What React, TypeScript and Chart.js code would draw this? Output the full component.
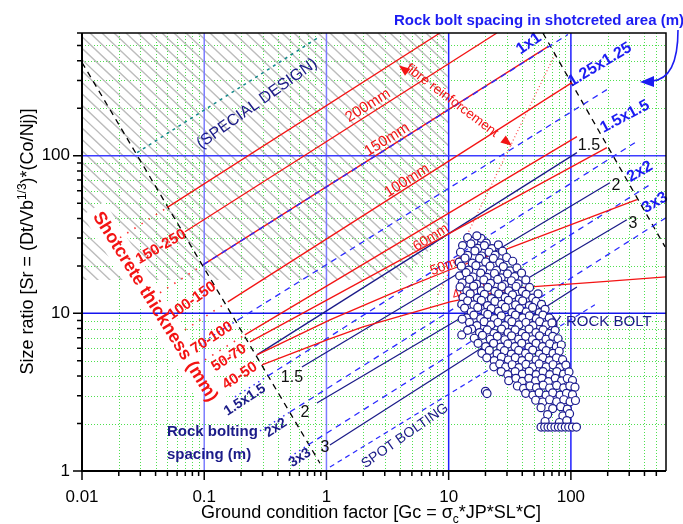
import React, { useEffect, useRef } from "react";
import { Chart, registerables } from "chart.js";

Chart.register(...registerables);

const FONT = "'Liberation Sans', Arial, Helvetica, sans-serif";
const RED = "#f31414";
const NAVY = "#1b1b88";
const BLUE = "#1c1cf2";

// ---- axes ----
const xRange = [0.01, 600];
const yRange = [1, 600];
const xTickValues = [0.01, 0.1, 1, 10, 100];
const yTickValues = [1, 10, 100];

// ---- shotcrete thickness lines (red) [Gc, Sr] ----
const shotcrete250 = [[0.0496, 46.8], [8.48, 600]];
const shotcrete200 = [[0.0696, 32.9], [24.8, 600]];
const shotcrete150 = [[0.0977, 20.3], [64.9, 492]];
const shotcrete100 = [[0.156, 11.83], [101.9, 290.7]];
const shotcrete60 = [[0.215, 7.3], [112, 132]];
const shotcrete60b = [[0.237, 6.59], [197, 112.4]];
const shotcrete50 = [[0.27, 5.45], [1.068, 9.09], [3.99, 14.1], [10.24, 18.9], [26.3, 24.6], [346.7, 52.6]];
const shotcrete40 = [[0.297, 4.71], [1.01, 6.79], [1.99, 8.21], [10.24, 11.83], [36.2, 14.5], [172.7, 15.85], [600, 17.05]];

// dotted red continuations left of the limit
const shotcreteExt = [
  [[0.02046, 30.2], [0.0496, 46.8]],
  [[0.0298, 21.5], [0.0696, 32.9]],
  [[0.04345, 13.5], [0.0977, 20.3]],
  [[0.0696, 7.86], [0.156, 11.83]],
  [[0.1014, 5.07], [0.215, 7.3]],
  [[0.1225, 4.71], [0.237, 6.59]],
];

// ---- rock bolt spacing in shotcreted area (blue dashed) ----
const bolt1x1 = [[0.0977, 20.3], [94.5, 587]];
const bolt125 = [[0.1888, 9.09], [197, 262.4]];
const bolt15 = [[0.332, 4.01], [333.9, 120.9]];
const bolt2 = [[0.503, 2.37], [442.8, 65.4]];
const bolt3 = [[0.706, 1.462], [600, 40.4]];
const boltExt = [
  [[0.0923, 6.4], [0.1888, 9.09]],
  [[0.1784, 2.95], [0.332, 4.01]],
  [[0.2858, 1.795], [0.503, 2.37]],
  [[0.503, 1.227], [0.706, 1.462]],
];
const spotBoltLimit = [[1.068, 1.06], [157.1, 11.32]];

// ---- rock bolt spacing, no shotcrete (navy solid) ----
const boltOnly15 = [[0.27, 5.45], [112, 104.5]];
const boltOnly2 = [[0.63, 4.57], [208.4, 67.4]];
const boltOnly3 = [[0.836, 2.7], [287.1, 39.2]];
const boltOnly4 = [[1.068, 1.462], [112, 14.7]];

// ---- limits ----
const limitLeft = [[0.01, 390], [0.885, 1.12]];
const limitRight = [[59, 600], [590, 26.4]];
const specialDesignLimit = [[0.0282, 104.5], [0.885, 570]];
const fibreLimit = [[74.0, 437.7], [8.01, 12.73]];
const hatchRegion = [[0.01, 600], [9.7, 600], [10.2, 36.5], [4.39, 16.3], [0.01, 16.3]];

// ---- observed cases [Gc, Sr] ----
const casePoints = [
  [14.3, 30.2], [16.1, 28.7], [18.4, 29.9], [20.3, 27.9], [17.0, 31.0],
  [13.0, 26.9], [15.2, 27.6], [17.3, 25.8], [19.6, 26.9], [22.6, 25.7], [25.5, 27.2],
  [12.5, 24.4], [14.3, 23.3], [16.4, 24.9], [18.6, 23.1], [21.4, 24.4], [24.0, 23.4], [27.6, 24.8],
  [12.2, 21.1], [13.6, 22.4], [15.6, 20.8], [17.9, 22.3], [20.1, 21.2], [23.2, 22.3], [26.2, 20.9], [29.8, 22.6], [33.4, 21.4],
  [12.7, 19.9], [14.6, 18.8], [16.7, 20.1], [19.0, 18.9], [21.8, 19.9], [24.6, 18.7], [28.0, 19.8], [31.9, 18.6], [36.2, 19.4],
  [12.3, 17.3], [13.9, 18.1], [15.8, 17.0], [18.3, 18.0], [20.6, 16.9], [23.7, 17.9], [26.9, 16.8], [30.3, 17.8], [34.7, 17.1], [39.5, 18.0],
  [12.9, 15.6], [14.8, 16.4], [16.9, 15.3], [19.4, 16.3], [22.0, 15.5], [25.2, 16.4], [28.6, 15.2], [32.6, 16.1], [37.0, 15.4], [42.8, 16.3],
  [12.4, 14.7], [14.1, 13.9], [16.0, 14.9], [18.5, 13.9], [20.9, 14.6], [23.9, 13.8], [27.3, 14.8], [31.1, 13.9], [35.6, 14.8], [40.1, 13.8], [45.9, 14.6],
  [13.1, 12.6], [15.0, 13.3], [17.2, 12.5], [19.6, 13.2], [22.4, 12.4], [25.7, 13.3], [29.0, 12.6], [33.3, 13.1], [37.8, 12.3], [43.0, 13.2], [48.7, 12.5], [53.9, 13.3],
  [12.8, 11.4], [14.3, 12.0], [16.1, 11.3], [18.5, 12.1], [20.8, 11.2], [23.9, 11.9], [27.2, 11.4], [30.8, 12.1], [35.3, 11.3], [40.3, 12.0], [45.8, 11.2], [51.8, 11.9], [57.5, 11.4],
  [13.5, 10.8], [15.3, 10.2], [17.3, 10.9], [19.9, 10.1], [22.3, 10.7], [25.6, 10.3], [29.1, 10.9], [33.0, 10.1], [38.0, 10.7], [43.1, 10.2], [48.6, 10.9], [55.3, 10.1], [61.5, 10.6],
  [14.0, 9.35], [16.1, 9.75], [18.3, 9.25], [20.9, 9.85], [23.7, 9.25], [27.0, 9.65], [31.0, 9.15], [35.2, 9.75], [40.4, 9.35], [45.8, 9.65], [52.2, 9.25], [59.0, 9.75], [66.5, 9.35],
  [14.8, 8.75], [17.0, 8.35], [19.5, 8.85], [22.2, 8.45], [25.3, 8.75], [28.8, 8.35], [32.9, 8.85], [37.6, 8.45], [42.9, 8.75], [48.9, 8.35], [55.5, 8.85], [62.8, 8.45], [70.0, 8.7],
  [15.4, 7.95], [17.9, 7.55], [20.7, 7.85], [23.5, 7.45], [27.1, 7.95], [30.6, 7.55], [35.0, 7.85], [40.0, 7.45], [45.5, 7.95], [51.8, 7.55], [59.3, 7.85], [66.6, 7.45], [74.3, 7.8],
  [16.2, 6.95], [18.9, 7.25], [21.9, 6.85], [25.0, 7.15], [28.8, 6.8], [32.7, 7.2], [37.4, 6.85], [42.6, 7.15], [48.5, 6.8], [55.4, 7.2], [62.6, 6.85], [71.0, 7.15], [78.5, 6.9],
  [17.4, 6.45], [20.1, 6.15], [23.3, 6.45], [26.7, 6.1], [30.5, 6.4], [34.9, 6.15], [39.6, 6.45], [45.4, 6.1], [51.9, 6.45], [58.7, 6.15], [67.1, 6.4], [76.0, 6.15], [83.5, 6.3],
  [18.7, 5.58], [21.5, 5.82], [24.9, 5.55], [28.6, 5.8], [32.6, 5.52], [37.4, 5.82], [42.6, 5.58], [48.7, 5.85], [55.3, 5.52], [62.8, 5.8], [71.4, 5.58], [80.2, 5.75],
  [20.5, 5.22], [23.6, 5.02], [27.0, 5.27], [30.8, 5.06], [35.1, 5.23], [39.9, 5.02], [45.5, 5.27], [51.9, 5.06], [58.9, 5.23], [66.9, 5.02], [76.2, 5.22], [85.5, 5.08],
  [23.4, 4.58], [26.2, 4.78], [29.3, 4.57], [33.1, 4.72], [37.6, 4.53], [42.9, 4.74], [48.8, 4.57], [55.0, 4.78], [62.8, 4.57], [71.5, 4.72], [81.3, 4.53], [91.0, 4.7],
  [26.9, 4.27], [30.5, 4.08], [35.0, 4.27], [40.1, 4.12], [45.6, 4.28], [52.0, 4.08], [59.2, 4.27], [67.2, 4.08], [76.7, 4.27], [87.0, 4.12], [96.5, 4.25],
  [31.0, 3.74], [35.5, 3.87], [40.0, 3.7], [45.3, 3.87], [51.5, 3.73], [58.0, 3.87], [65.5, 3.69], [74.5, 3.87], [84.0, 3.73], [93.5, 3.86], [103, 3.75],
  [36.5, 3.46], [41.0, 3.34], [46.3, 3.46], [52.3, 3.38], [59.4, 3.5], [67.0, 3.36], [76.5, 3.49], [87.3, 3.37], [98.0, 3.46], [108, 3.4],
  [42.7, 3.11], [48.9, 3.03], [55.0, 3.13], [62.7, 3.03], [71.0, 3.13], [81.5, 3.03], [92.0, 3.11], [103, 3.05],
  [51.5, 2.81], [58.9, 2.74], [67.0, 2.83], [76.5, 2.75], [87.5, 2.83], [98.5, 2.75], [109, 2.8],
  [57.0, 2.52], [71.0, 2.49], [82.5, 2.56], [93.5, 2.47],
  [64.5, 2.28], [86.0, 2.24], [97.5, 2.31],
  [61.5, 2.06], [80.5, 2.03], [92.5, 2.09],
  [57, 1.9], [61, 1.9], [65, 1.9], [69, 1.9], [74, 1.9], [79, 1.9], [84, 1.9], [90, 1.9], [96, 1.9], [103, 1.9], [111, 1.9],
  [20, 3.2], [20.6, 3.1], [12.9, 9.2], [12.8, 7.3], [14.3, 7.8],
];

// ---- annotations ----
type Label = { text: string; x: number; y: number; rot: number; font: string; color: string; align?: CanvasTextAlign };
const plotLabels: Label[] = [
  { text: "(SPECIAL DESIGN)", x: 0.27, y: 213.8, rot: -35.5, font: `16px ${FONT}`, color: NAVY },
  { text: "fibre reinforcement", x: 10.63, y: 223.4, rot: 37, font: `13.5px ${FONT}`, color: RED },
  { text: "200mm", x: 2.185, y: 207.7, rot: -32, font: `15px ${FONT}`, color: RED },
  { text: "150mm", x: 3.126, y: 126.4, rot: -32, font: `15px ${FONT}`, color: RED },
  { text: "100mm", x: 4.555, y: 69.4, rot: -32, font: `15px ${FONT}`, color: RED },
  { text: "60mm", x: 7.158, y: 30.2, rot: -32, font: `14px ${FONT}`, color: RED },
  { text: "50mm", x: 10.05, y: 20.3, rot: -20, font: `14px ${FONT}`, color: RED },
  { text: "40mm", x: 15.2, y: 14.1, rot: -20, font: `14px ${FONT}`, color: RED },
  { text: "150-250", x: 0.0443, y: 26.4, rot: -30, font: `bold 15px ${FONT}`, color: RED },
  { text: "100-150", x: 0.0794, y: 12.0, rot: -35, font: `bold 15px ${FONT}`, color: RED },
  { text: "70-100", x: 0.1157, y: 6.99, rot: -33, font: `bold 15px ${FONT}`, color: RED },
  { text: "50-70", x: 0.1594, y: 5.22, rot: -33, font: `bold 15px ${FONT}`, color: RED },
  { text: "40-50", x: 0.196, y: 4.01, rot: -33, font: `bold 15px ${FONT}`, color: RED },
  { text: "1x1", x: 45.3, y: 514, rot: -35, font: `bold 16px ${FONT}`, color: BLUE },
  { text: "1.25x1.25", x: 172.7, y: 378, rot: -31, font: `bold 16px ${FONT}`, color: BLUE },
  { text: "1.5x1.5", x: 276.5, y: 176.9, rot: -28, font: `bold 16px ${FONT}`, color: BLUE },
  { text: "2x2", x: 366.7, y: 79.1, rot: -30, font: `bold 16px ${FONT}`, color: BLUE },
  { text: "3x3", x: 486.6, y: 50.3, rot: -30, font: `bold 16px ${FONT}`, color: BLUE },
  { text: "1.5", x: 140.4, y: 115.8, rot: 0, font: `16px ${FONT}`, color: "#111" },
  { text: "2", x: 233.4, y: 64.5, rot: 0, font: `16px ${FONT}`, color: "#111" },
  { text: "3", x: 321.6, y: 37.0, rot: 0, font: `16px ${FONT}`, color: "#111" },
  { text: "1.5", x: 0.522, y: 3.894, rot: 0, font: `16px ${FONT}`, color: "#111" },
  { text: "2", x: 0.6669, y: 2.335, rot: 0, font: `16px ${FONT}`, color: "#111" },
  { text: "3", x: 0.972, y: 1.4, rot: 0, font: `16px ${FONT}`, color: "#111" },
  { text: "1.5x1.5", x: 0.2154, y: 2.823, rot: -33, font: `bold 14px ${FONT}`, color: NAVY },
  { text: "2x2", x: 0.3863, y: 1.875, rot: -33, font: `bold 14px ${FONT}`, color: NAVY },
  { text: "3x3", x: 0.6068, y: 1.209, rot: -33, font: `bold 14px ${FONT}`, color: NAVY },
  { text: "Rock bolting", x: 0.0496, y: 1.769, rot: 0, font: `bold 15px ${FONT}`, color: NAVY, align: "left" },
  { text: "spacing (m)", x: 0.0496, y: 1.264, rot: 0, font: `bold 15px ${FONT}`, color: NAVY, align: "left" },
  { text: "SPOT BOLTING", x: 4.386, y: 1.668, rot: -35, font: `14px ${FONT}`, color: NAVY },
  { text: "ONLY ROCK BOLT", x: 135.1, y: 8.83, rot: 0, font: `15px ${FONT}`, color: NAVY },
];
const shotcreteTitle: Label = { text: "Shotcrete thickness (mm)", x: 0.03956, y: 11.0, rot: 58, font: `bold 18px ${FONT}`, color: RED };
const fibreArrowTips = [[3.917, 372.7, 217], [32.9, 115.8, 37]];

const pts = (arr: number[][]) => arr.map(([x, y]) => ({ x, y }));

function lineDs(data: number[][], color: string, width: number, dash: number[] = []) {
  return {
    data: pts(data),
    showLine: true,
    borderColor: color,
    backgroundColor: color,
    borderWidth: width,
    borderDash: dash,
    pointRadius: 0,
    pointHoverRadius: 0,
    fill: false,
    tension: 0,
  };
}

function decadeMinors(min: number, max: number) {
  const out: number[] = [];
  for (let d = min; d < max; d *= 10) {
    for (let k = 2; k <= 9; k++) {
      const v = k * d;
      if (v < max * 0.999) out.push(v);
    }
  }
  return out;
}

function drawLabel(ctx: CanvasRenderingContext2D, chart: any, l: Label) {
  const px = chart.scales.x.getPixelForValue(l.x);
  const py = chart.scales.y.getPixelForValue(l.y);
  ctx.save();
  ctx.translate(px, py);
  ctx.rotate((l.rot * Math.PI) / 180);
  ctx.font = l.font;
  ctx.fillStyle = l.color;
  ctx.textAlign = l.align || "center";
  ctx.textBaseline = "middle";
  ctx.fillText(l.text, 0, 0);
  ctx.restore();
}

function drawParts(ctx: CanvasRenderingContext2D, parts: [string, number, number][], cx: number, baseY: number) {
  let total = 0;
  for (const [t, s] of parts) {
    ctx.font = `${s}px ${FONT}`;
    total += ctx.measureText(t).width;
  }
  let x = cx - total / 2;
  ctx.textAlign = "left";
  ctx.textBaseline = "alphabetic";
  for (const [t, s, dy] of parts) {
    ctx.font = `${s}px ${FONT}`;
    ctx.fillText(t, x, baseY + dy);
    x += ctx.measureText(t).width;
  }
}

export default function App() {
  const ref = useRef<HTMLCanvasElement | null>(null);

  useEffect(() => {
    const canvas = ref.current;
    if (!canvas) return;

    const datasets: any[] = [];
    shotcreteExt.forEach((l) => datasets.push(lineDs(l, "#ff3030", 1.6, [1.5, 7])));
    boltExt.forEach((l) => datasets.push(lineDs(l, "#2a2aff", 1.4, [1.5, 4])));
    datasets.push(lineDs(fibreLimit, "#ff5050", 1.3, [1, 2.5]));
    datasets.push(lineDs(specialDesignLimit, "#138a8a", 1.5, [3, 4]));
    datasets.push(lineDs(limitLeft, "#000", 1.3, [6, 5]));
    datasets.push(lineDs(limitRight, "#000", 1.3, [6, 5]));
    [boltOnly15, boltOnly2, boltOnly3, boltOnly4].forEach((l) => datasets.push(lineDs(l, NAVY, 1.3)));
    datasets.push(lineDs(spotBoltLimit, "#2a2aff", 1.2, [5, 4]));
    [bolt125, bolt15, bolt2, bolt3].forEach((l) => datasets.push(lineDs(l, "#2a2aff", 1.3, [6, 5])));
    [shotcrete250, shotcrete200, shotcrete150, shotcrete100, shotcrete60, shotcrete60b, shotcrete50, shotcrete40].forEach((l) =>
      datasets.push(lineDs(l, RED, 1.3))
    );
    datasets.push(lineDs(bolt1x1, "#2a2aff", 1.4, [6, 5]));

    const scatterIndex = datasets.length;
    datasets.push({
      data: pts(casePoints),
      showLine: false,
      pointRadius: 4,
      pointHoverRadius: 4,
      pointBorderWidth: 1.2,
      pointBorderColor: "#1b1b8f",
      pointBackgroundColor: "#ffffff",
    });
    datasets.forEach((d, i) => (d.order = -i));

    const bgPlugin = {
      id: "rmiBackground",
      beforeDatasetsDraw(chart: any) {
        const { ctx, chartArea: a, scales } = chart;
        const sx = scales.x, sy = scales.y;
        ctx.save();
        ctx.beginPath();
        ctx.rect(a.left, a.top, a.right - a.left, a.bottom - a.top);
        ctx.clip();
        // minor grid
        ctx.strokeStyle = "#4fe04f";
        ctx.lineWidth = 1;
        ctx.setLineDash([1, 2]);
        ctx.beginPath();
        for (const v of decadeMinors(xRange[0], xRange[1])) {
          const p = Math.round(sx.getPixelForValue(v)) + 0.5;
          ctx.moveTo(p, a.top);
          ctx.lineTo(p, a.bottom);
        }
        for (const v of decadeMinors(yRange[0], yRange[1])) {
          const p = Math.round(sy.getPixelForValue(v)) + 0.5;
          ctx.moveTo(a.left, p);
          ctx.lineTo(a.right, p);
        }
        ctx.stroke();
        ctx.setLineDash([]);
        // hatch
        ctx.save();
        ctx.beginPath();
        hatchRegion.forEach(([x, y], i) => {
          const px = sx.getPixelForValue(x), py = sy.getPixelForValue(y);
          if (i === 0) ctx.moveTo(px, py); else ctx.lineTo(px, py);
        });
        ctx.closePath();
        ctx.clip();
        ctx.strokeStyle = "#bcbcbc";
        ctx.lineWidth = 1.4;
        ctx.beginPath();
        const H = a.bottom - a.top;
        for (let c = a.left - 700; c < a.right; c += 12) {
          ctx.moveTo(c, a.top);
          ctx.lineTo(c + H / 0.95, a.bottom);
        }
        ctx.stroke();
        ctx.restore();
        // white box behind shotcrete title
        {
          const px = sx.getPixelForValue(shotcreteTitle.x), py = sy.getPixelForValue(shotcreteTitle.y);
          ctx.save();
          ctx.translate(px, py);
          ctx.rotate((shotcreteTitle.rot * Math.PI) / 180);
          ctx.font = shotcreteTitle.font;
          const w = ctx.measureText(shotcreteTitle.text).width;
          ctx.fillStyle = "#fff";
          ctx.fillRect(-w / 2 - 6, -13, w + 12, 26);
          ctx.restore();
        }
        // decade lines
        ctx.lineWidth = 1.5;
        const vcols: Record<string, string> = { "0.1": "#7c7cff", "1": "#7c7cff", "10": "#1f1fff", "100": "#1f1fff" };
        [0.1, 1, 10, 100].forEach((v) => {
          const p = sx.getPixelForValue(v);
          ctx.strokeStyle = vcols[String(v)];
          ctx.beginPath();
          ctx.moveTo(p, a.top);
          ctx.lineTo(p, a.bottom);
          ctx.stroke();
        });
        [10, 100].forEach((v) => {
          const p = sy.getPixelForValue(v);
          ctx.strokeStyle = v === 10 ? "#1515ee" : "#3d3dff";
          ctx.beginPath();
          ctx.moveTo(a.left, p);
          ctx.lineTo(a.right, p);
          ctx.stroke();
        });
        ctx.restore();
      },
      beforeDatasetDraw(chart: any, args: any) {
        if (args.index !== scatterIndex) return;
        const { ctx, scales } = chart;
        plotLabels.forEach((l) => drawLabel(ctx, chart, l));
        drawLabel(ctx, chart, shotcreteTitle);
        ctx.save();
        ctx.fillStyle = RED;
        fibreArrowTips.forEach(([x, y, ang]) => {
          const px = scales.x.getPixelForValue(x), py = scales.y.getPixelForValue(y);
          ctx.save();
          ctx.translate(px, py);
          ctx.rotate((ang * Math.PI) / 180);
          ctx.beginPath();
          ctx.moveTo(0, 0);
          ctx.lineTo(-11, -4.5);
          ctx.lineTo(-11, 4.5);
          ctx.closePath();
          ctx.fill();
          ctx.restore();
        });
        ctx.restore();
      },
      afterDraw(chart: any) {
        const { ctx, chartArea: a, scales } = chart;
        const sx = scales.x, sy = scales.y;
        ctx.save();
        ctx.strokeStyle = "#000";
        ctx.setLineDash([]);
        ctx.lineWidth = 1.5;
        ctx.beginPath();
        ctx.moveTo(a.left, a.top);
        ctx.lineTo(a.right, a.top);
        ctx.lineTo(a.right, a.bottom);
        ctx.stroke();
        ctx.lineWidth = 2;
        ctx.beginPath();
        ctx.moveTo(a.left, a.top);
        ctx.lineTo(a.left, a.bottom);
        ctx.lineTo(a.right, a.bottom);
        ctx.stroke();
        // ticks
        ctx.lineWidth = 1.5;
        ctx.beginPath();
        xTickValues.forEach((v) => {
          const p = sx.getPixelForValue(v);
          ctx.moveTo(p, a.bottom);
          ctx.lineTo(p, a.bottom + 9);
        });
        decadeMinors(xRange[0], xRange[1]).forEach((v) => {
          const p = sx.getPixelForValue(v);
          ctx.moveTo(p, a.bottom);
          ctx.lineTo(p, a.bottom + 5);
        });
        yTickValues.forEach((v) => {
          const p = sy.getPixelForValue(v);
          ctx.moveTo(a.left, p);
          ctx.lineTo(a.left - 9, p);
        });
        decadeMinors(yRange[0], yRange[1]).forEach((v) => {
          const p = sy.getPixelForValue(v);
          ctx.moveTo(a.left, p);
          ctx.lineTo(a.left - 5, p);
        });
        ctx.moveTo(a.left, a.top);
        ctx.lineTo(a.left - 5, a.top);
        ctx.stroke();

        // axis titles
        ctx.fillStyle = "#000";
        drawParts(ctx, [["Ground condition factor [Gc = σ", 18, 0], ["c", 12, 5], ["*JP*SL*C]", 18, 0]], 371, a.bottom + 47);
        ctx.save();
        ctx.translate(33, 241.5);
        ctx.rotate(-Math.PI / 2);
        drawParts(ctx, [["Size ratio [Sr = (Dt/Vb", 18, 0], ["1/3", 12, -7], [")*(Co/Nj)]", 18, 0]], 0, 0);
        ctx.restore();

        // top annotation
        ctx.fillStyle = BLUE;
        ctx.font = `bold 15px ${FONT}`;
        ctx.textAlign = "center";
        ctx.textBaseline = "alphabetic";
        ctx.fillText("Rock bolt spacing in shotcreted area (m)", a.right - 127, a.top - 8);
        ctx.strokeStyle = BLUE;
        ctx.fillStyle = BLUE;
        ctx.lineWidth = 1.6;
        ctx.beginPath();
        ctx.moveTo(a.right + 12, a.top - 3);
        ctx.quadraticCurveTo(a.right + 12, a.top + 46, a.right - 14, a.top + 48);
        ctx.stroke();
        ctx.beginPath();
        ctx.moveTo(a.right - 26, a.top + 49);
        ctx.lineTo(a.right - 12, a.top + 43);
        ctx.lineTo(a.right - 12, a.top + 54);
        ctx.closePath();
        ctx.fill();
        ctx.restore();
      },
    };

    const chart = new Chart(canvas, {
      type: "scatter",
      data: { datasets },
      options: {
        responsive: false,
        animation: false,
        events: [],
        layout: { padding: { top: 33, right: 17, left: 0, bottom: 0 } },
        plugins: { legend: { display: false }, tooltip: { enabled: false } },
        scales: {
          x: {
            type: "logarithmic",
            position: "bottom",
            min: xRange[0],
            max: xRange[1],
            grid: { display: false, drawTicks: false },
            border: { display: false },
            ticks: {
              autoSkip: false,
              maxRotation: 0,
              padding: 16,
              color: "#000",
              font: { family: FONT, size: 17 },
              callback: (v: any) => String(v),
            },
            afterBuildTicks: (s: any) => {
              s.ticks = xTickValues.map((v) => ({ value: v }));
            },
            afterFit: (s: any) => {
              s.height = 53;
            },
          },
          y: {
            type: "logarithmic",
            position: "left",
            min: yRange[0],
            max: yRange[1],
            grid: { display: false, drawTicks: false },
            border: { display: false },
            ticks: {
              autoSkip: false,
              padding: 12,
              color: "#000",
              font: { family: FONT, size: 17 },
              callback: (v: any) => String(v),
            },
            afterBuildTicks: (s: any) => {
              s.ticks = yTickValues.map((v) => ({ value: v }));
            },
            afterFit: (s: any) => {
              s.width = 82;
            },
          },
        },
      } as any,
      plugins: [bgPlugin as any],
    });
    return () => chart.destroy();
  }, []);

  return (
    <div style={{ position: "absolute", left: 0, top: 0, width: 683, height: 524, background: "#fff" }}>
      <canvas ref={ref} width={683} height={524} style={{ display: "block" }} />
    </div>
  );
}
